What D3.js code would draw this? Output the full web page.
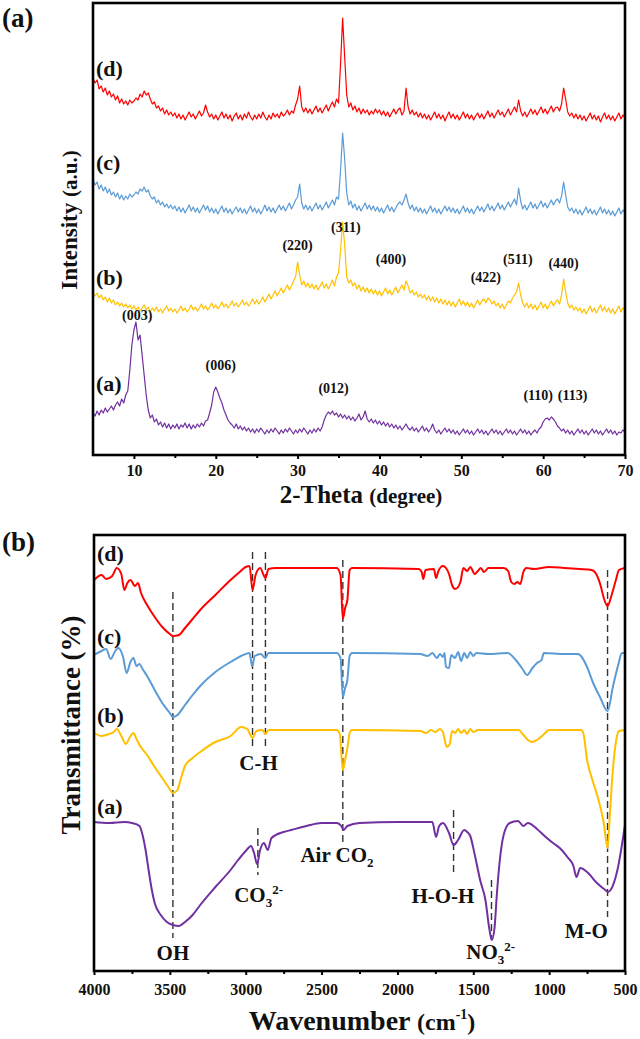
<!DOCTYPE html>
<html><head><meta charset="utf-8">
<script src="https://cdn.jsdelivr.net/npm/d3@7"></script>
<style>
html,body{margin:0;padding:0;background:#fff;}
svg{display:block;}
text{font-family:"Liberation Serif","Times New Roman",serif;font-weight:bold;fill:#111;}
</style></head>
<body>
<svg id="chart" width="640" height="1039"></svg>
<script>
// ---------------- DATA ----------------
// XRD (panel a): intensity (a.u., stacked as plotted) sampled every 0.25 deg from 5 to 70
const xrdTheta0 = 5, xrdThetaStep = 0.25;
const xrdD = [
377,372,375,366,369,363,367,360,364,358,361,355,359,352,356,351,354,350,355,352,
354,357,355,361,358,364,360,362,356,351,353,347,349,344,347,341,345,340,343,339,
342,337,341,336,340,335,339,343,338,341,336,340,344,339,342,350,343,338,341,336,
340,335,339,343,337,341,336,340,334,339,342,336,340,335,341,337,343,338,335,340,
336,341,337,343,338,335,340,336,342,338,341,337,343,339,341,345,340,344,342,350,
356,369,348,343,347,342,346,341,345,349,343,347,342,346,350,344,349,353,348,356,
352,392,437,398,360,348,352,345,349,343,347,341,346,342,345,340,344,341,346,342,
345,340,344,339,343,338,342,346,341,345,347,340,344,367,348,341,345,340,343,338,
342,337,341,336,340,335,339,343,337,341,336,340,334,339,343,337,341,336,340,335,
339,343,337,341,336,340,335,339,342,337,341,336,340,344,338,342,337,341,345,340,
343,338,342,346,340,344,348,343,355,344,339,343,338,342,346,341,345,340,344,348,
342,346,341,345,349,343,347,348,344,351,367,356,343,339,342,337,341,336,340,335,
339,334,338,342,336,340,335,339,333,338,342,336,340,335,339,334,338,342,336,340,
337];
const xrdC = [
275,270,273,266,270,264,268,262,266,260,263,258,262,256,260,255,259,256,261,258,
260,263,261,266,264,268,263,265,259,256,258,252,255,250,253,248,251,247,250,246,
249,244,248,243,247,242,246,250,244,248,243,247,242,246,250,245,249,243,247,242,
246,241,245,249,243,247,242,246,241,245,248,243,247,242,246,241,245,249,243,247,
242,246,241,245,250,244,248,243,247,242,246,250,245,249,244,248,252,246,250,255,
258,271,252,246,250,245,249,244,248,252,246,250,245,249,253,247,251,255,250,258,
256,285,322,296,262,250,254,247,251,245,249,244,248,252,246,250,245,249,244,248,
243,247,242,246,250,244,248,243,247,251,253,250,255,261,252,246,250,244,248,243,
247,242,246,241,245,249,243,247,242,246,241,245,249,244,248,243,247,242,246,241,
245,249,243,247,242,246,241,245,249,244,248,243,247,251,245,249,244,248,252,246,
250,245,249,253,248,252,256,250,267,254,246,250,245,249,253,247,251,246,250,254,
248,252,247,251,255,250,254,256,252,259,273,260,248,244,247,242,246,241,245,240,
244,248,242,246,241,245,240,244,248,242,246,241,245,240,244,239,243,247,241,245,
242];
const xrdB = [
163,159,162,157,160,155,158,153,157,152,155,150,153,149,152,148,151,147,150,146,
149,145,148,144,147,150,145,148,143,147,144,148,143,146,142,146,149,144,147,143,
146,142,145,149,144,147,143,146,150,145,148,144,147,151,146,149,145,148,152,147,
150,146,149,153,148,151,147,150,154,149,152,148,151,155,150,153,149,152,156,151,
155,151,154,158,153,157,161,156,160,164,159,163,167,162,166,170,165,169,174,178,
193,180,170,174,168,172,167,171,166,170,165,169,173,167,171,166,170,175,169,178,
182,205,233,210,178,172,175,169,172,166,170,164,168,163,167,162,166,161,165,160,
164,159,163,167,161,165,160,164,168,162,166,170,165,174,169,162,165,160,163,158,
161,157,160,155,159,154,158,153,157,152,156,151,155,150,154,149,153,148,152,156,
150,154,149,153,148,152,147,151,155,150,154,156,152,157,155,151,154,149,152,147,
151,146,150,154,152,157,160,163,172,160,152,148,152,147,151,146,150,145,149,153,
147,151,146,150,154,149,153,155,151,160,176,163,152,147,150,145,148,144,147,142,
146,141,145,149,143,147,142,146,150,144,148,143,147,142,146,141,145,149,143,147,
145];
const xrdA = [
42,39,44,40,45,42,47,43,46,49,45,50,53,49,56,52,60,64,85,110,
125,133,115,120,100,80,60,45,37,40,33,36,30,33,28,32,27,31,26,30,
27,31,26,30,28,32,27,31,26,30,27,31,28,32,29,34,35,42,50,63,
68,63,57,52,45,40,35,32,30,27,31,26,29,25,28,24,27,23,26,22,
26,23,27,24,21,25,22,26,23,27,24,21,25,22,26,23,27,24,21,25,
22,26,23,27,24,21,25,22,26,23,27,24,28,35,40,43,41,44,40,42,
38,41,37,40,36,39,35,38,34,37,41,35,38,44,36,33,36,32,35,31,
34,30,33,29,32,28,31,27,30,26,29,25,28,31,27,25,28,24,27,23,
26,29,24,27,23,26,31,25,22,25,21,24,27,23,26,22,25,21,24,20,
23,26,22,25,21,24,20,23,26,22,25,21,24,20,23,26,22,25,21,24,
20,23,26,22,25,21,24,20,23,26,22,25,21,24,20,23,25,22,26,28,
33,36,37,35,38,36,33,29,27,24,26,22,25,21,24,20,23,26,22,25,
21,24,20,23,26,22,25,21,24,20,23,26,22,25,21,24,20,23,22,25,
23];
const xrdSampleLabels = ["(d)","(c)","(b)","(a)"];
const xrdPeakLabels = ["(003)","(006)","(012)","(110)","(113)","(220)","(311)","(400)","(422)","(511)","(440)"];
const xrdPeakTheta  = [10.4, 20.6, 34.4, 59.4, 63.6, 30.0, 35.9, 41.4, 53.0, 56.9, 62.5];
const xrdPeakLevel  = [135, 85, 62, 55, 55, 205, 223, 191, 173, 191, 187];
const xrdTicks = [10,20,30,40,50,60,70];
const xrdMinorTicks = [15,25,35,45,55,65];

// FTIR (panel b): [wavenumber cm-1, transmittance (stacked, a.u.)]
const ftirD = [[4000,391],[3950,396],[3920,392],[3880,395],[3850,403],[3820,397],[3800,381],[3780,388],[3760,391],[3730,385],[3710,388],[3690,378],[3650,366],[3600,354],[3550,344],[3500,337],[3480,335],[3440,336],[3400,343],[3350,352],[3300,361],[3200,376],[3100,391],[3040,399],[3000,404],[2975,405],[2955,381],[2935,396],[2905,403],[2870,393],[2850,402],[2800,403],[2400,403],[2375,396],[2360,352],[2345,363],[2330,371],[2315,401],[2300,403],[1860,402],[1840,399],[1830,392],[1815,401],[1760,402],[1745,393],[1730,400],[1700,405],[1680,403],[1660,397],[1640,386],[1620,382],[1600,384],[1585,389],[1565,403],[1540,400],[1520,404],[1490,397],[1470,400],[1450,403],[1430,399],[1400,403],[1300,403],[1270,400],[1250,389],[1230,387],[1210,389],[1190,387],[1170,399],[1150,403],[1100,402],[1000,404],[900,403],[800,402],[720,401],[690,397],[660,385],[640,373],[615,365],[590,375],[560,391],[540,401],[500,403]];
const ftirC = [[4000,316],[3950,320],[3920,322],[3890,312],[3860,320],[3840,323],[3810,315],[3785,298],[3760,309],[3740,313],[3720,305],[3700,307],[3680,302],[3650,295],[3600,281],[3550,268],[3500,258],[3480,254],[3450,256],[3400,266],[3350,276],[3300,285],[3200,299],[3100,309],[3000,317],[2975,318],[2958,305],[2940,315],[2900,317],[2872,313],[2850,318],[2400,318],[2375,313],[2360,274],[2345,283],[2330,291],[2315,315],[2300,318],[1850,317],[1800,315],[1770,318],[1740,313],[1720,317],[1700,314],[1690,318],[1680,304],[1660,303],[1645,316],[1620,313],[1600,319],[1580,310],[1560,318],[1540,313],[1520,319],[1500,315],[1480,318],[1400,317],[1275,318],[1220,311],[1180,303],[1145,296],[1110,303],[1080,308],[1050,311],[1035,318],[900,317],[810,317],[750,304],[710,288],[665,274],[615,260],[580,284],[545,306],[520,318],[500,318]];
const ftirB = [[4000,238],[3950,235],[3900,237],[3870,239],[3850,242],[3820,235],[3790,227],[3760,235],[3740,238],[3720,232],[3700,226],[3650,216],[3600,204],[3550,193],[3510,184],[3480,178],[3450,181],[3430,191],[3400,205],[3350,213],[3300,219],[3200,229],[3100,235],[3030,244],[2990,242],[2955,233],[2930,240],[2890,241],[2870,237],[2850,241],[2400,241],[2380,237],[2360,201],[2345,211],[2330,223],[2315,238],[2300,241],[1850,240],[1810,238],[1780,241],[1750,239],[1720,242],[1700,239],[1690,232],[1675,224],[1655,227],[1640,240],[1620,238],[1600,242],[1580,238],[1560,241],[1540,237],[1520,242],[1500,239],[1470,241],[1200,241],[1180,238],[1140,231],[1110,229],[1080,231],[1040,236],[1000,241],[790,241],[775,238],[750,211],[715,191],[680,174],[640,148],[615,123],[600,156],[580,201],[560,229],[540,240],[500,241]];
const ftirA = [[4000,149],[3900,148],[3800,149],[3750,148],[3700,145],[3680,136],[3660,121],[3640,101],[3620,82],[3600,68],[3560,56],[3520,49],[3480,46],[3440,45],[3400,49],[3350,56],[3300,66],[3200,84],[3100,101],[3050,111],[3000,120],[2965,125],[2945,118],[2925,107],[2905,121],[2880,128],[2855,121],[2830,133],[2750,139],[2700,141],[2600,145],[2500,148],[2400,148],[2370,145],[2355,141],[2330,145],[2250,148],[2000,149],[1850,149],[1770,149],[1745,134],[1725,145],[1700,148],[1660,138],[1630,126],[1600,131],[1560,141],[1540,139],[1520,135],[1490,116],[1455,91],[1420,71],[1395,43],[1378,31],[1360,43],[1345,76],[1325,111],[1300,136],[1260,148],[1205,150],[1170,145],[1140,148],[1080,142],[1030,135],[975,128],[930,123],[880,114],[840,105],[820,94],[795,103],[750,99],[685,88],[630,81],[612,79],[595,81],[550,101],[510,136],[500,146]];
const ftirSampleLabels = ["(d)","(c)","(b)","(a)"];
const ftirBandWn = [3480, 2955, 2870, 2360, 615, 2920, 1630, 1380];
const ftirTicks = [4000,3500,3000,2500,2000,1500,1000,500];
const ftirMinorTicks = [3750,3250,2750,2250,1750,1250,750];

const colors = {d:"#ff0000", c:"#5b9bd5", b:"#ffc000", a:"#7030a0"};

// ---------------- DRAW ----------------
const svg = d3.select("#chart");

// ---- Panel (a): XRD ----
const xX = d3.scaleLinear().domain([5,70]).range([93,625]);
const yX = d3.scaleLinear().domain([0,452]).range([455,3]);
const gA = svg.append("g");

const xrdSeries = [["d",xrdD],["c",xrdC],["b",xrdB],["a",xrdA]];
const lineX = d3.line().x((v,i)=>xX(xrdTheta0 + i*xrdThetaStep)).y(v=>yX(v));
xrdSeries.forEach(([k,arr])=>{
  gA.append("path").datum(arr).attr("d",lineX)
    .attr("fill","none").attr("stroke",colors[k]).attr("stroke-width",1.2)
    .attr("stroke-linejoin","round");
});

// axes
gA.append("g").attr("transform","translate(0,455)")
  .call(d3.axisBottom(xX).tickValues(xrdTicks).tickSize(4).tickFormat(d3.format("d")))
  .call(g=>{g.select(".domain").remove();
    g.selectAll("line").attr("stroke","#000").attr("stroke-width",2);
    g.selectAll("text").attr("dy",null).attr("y",21).attr("font-size",16).attr("fill","#111")
      .style("font-family",'"Liberation Serif",serif').style("font-weight","bold");});
gA.append("g").attr("transform","translate(0,455)")
  .call(d3.axisBottom(xX).tickValues(xrdMinorTicks).tickSize(3).tickFormat(""))
  .call(g=>{g.select(".domain").remove(); g.selectAll("line").attr("stroke","#000").attr("stroke-width",2);});
gA.append("rect").attr("x",xX(5)).attr("y",yX(452)).attr("width",xX(70)-xX(5)).attr("height",yX(0)-yX(452))
  .attr("fill","none").attr("stroke","#000").attr("stroke-width",2.6);

// sample labels
const xrdLabelY = [76,170,285,391];
xrdSampleLabels.forEach((t,i)=>gA.append("text").attr("x",96).attr("y",xrdLabelY[i]).attr("font-size",22).text(t));
// peak labels
xrdPeakLabels.forEach((t,i)=>gA.append("text").attr("x",xX(xrdPeakTheta[i]) ).attr("y",yX(xrdPeakLevel[i]))
  .attr("text-anchor","middle").attr("font-size",14).text(t));

// titles
gA.append("text").attr("x",2).attr("y",27).attr("font-size",27).text("(a)");
const ty = gA.append("text").attr("transform","translate(77,220) rotate(-90)").attr("text-anchor","middle");
ty.append("tspan").attr("font-size",23).text("Intensity ");
ty.append("tspan").attr("font-size",21).text("(a.u.)");
const tx = gA.append("text").attr("x",361).attr("y",503).attr("text-anchor","middle");
tx.append("tspan").attr("font-size",25).text("2-Theta ");
tx.append("tspan").attr("font-size",21).text("(degree)");

// ---- Panel (b): FTIR ----
const xF = d3.scaleLinear().domain([4000,500]).range([94,625]);
const yF = d3.scaleLinear().domain([0,436]).range([971,535]);
const gB = svg.append("g");

// dashed band markers
const dashSpans = [[379,33],[419,221],[419,221],[411,129],[401,54],[143,96],[161,98],[91,31]];
ftirBandWn.forEach((w,i)=>{
  gB.append("line").attr("x1",xF(w)).attr("x2",xF(w)).attr("y1",yF(dashSpans[i][0])).attr("y2",yF(dashSpans[i][1]))
    .attr("stroke","#333").attr("stroke-width",1.4).attr("stroke-dasharray","7,4");
});

const lineF = d3.line().x(d=>xF(d[0])).y(d=>yF(d[1])).curve(d3.curveMonotoneX);
const ftirSeries = [["d",ftirD],["c",ftirC],["b",ftirB],["a",ftirA]];
ftirSeries.forEach(([k,arr])=>{
  gB.append("path").datum(arr).attr("d",lineF)
    .attr("fill","none").attr("stroke",colors[k]).attr("stroke-width",2)
    .attr("stroke-linejoin","round");
});

gB.append("g").attr("transform","translate(0,971)")
  .call(d3.axisBottom(xF).tickValues(ftirTicks).tickSize(4).tickFormat(d3.format("d")))
  .call(g=>{g.select(".domain").remove();
    g.selectAll("line").attr("stroke","#000").attr("stroke-width",2);
    g.selectAll("text").attr("dy",null).attr("y",24).attr("font-size",16).attr("fill","#111")
      .style("font-family",'"Liberation Serif",serif').style("font-weight","bold");});
gB.append("g").attr("transform","translate(0,971)")
  .call(d3.axisBottom(xF).tickValues(ftirMinorTicks).tickSize(3).tickFormat(""))
  .call(g=>{g.select(".domain").remove(); g.selectAll("line").attr("stroke","#000").attr("stroke-width",2);});
gB.append("rect").attr("x",xF(4000)).attr("y",yF(436)).attr("width",xF(500)-xF(4000)).attr("height",yF(0)-yF(436))
  .attr("fill","none").attr("stroke","#000").attr("stroke-width",2.6);

const ftirLabelY = [561,644,723,814];
ftirSampleLabels.forEach((t,i)=>gB.append("text").attr("x",97).attr("y",ftirLabelY[i]).attr("font-size",22).text(t));

// band annotations
function ann(x,y,parts){
  const t = gB.append("text").attr("x",x).attr("y",y).attr("text-anchor","middle").attr("font-size",21);
  parts.forEach(p=>{
    const s = t.append("tspan").text(p[0]);
    if(p[1]==="sub") s.attr("font-size",13).attr("dy",5);
    if(p[1]==="sup") s.attr("font-size",13).attr("dy",-13);
  });
}
ann(xF(3480),960,[["OH"]]);
ann(xF(2915),770,[["C-H"]]);
ann(xF(2915),902,[["CO"],["3","sub"],["2-","sup"]]);
ann(337,862,[["Air CO"],["2","sub"]]);
ann(xF(1700),903,[["H-O-H"]]);
ann(xF(1385),959,[["NO"],["3","sub"],["2-","sup"]]);
ann(xF(755),938,[["M-O"]]);

gB.append("text").attr("x",2).attr("y",551).attr("font-size",27).text("(b)");
gB.append("text").attr("transform","translate(80,725) rotate(-90)").attr("text-anchor","middle")
  .attr("font-size",27).text("Transmittance (%)");
const tw = gB.append("text").attr("x",362).attr("y",1030).attr("text-anchor","middle");
tw.append("tspan").attr("font-size",28).text("Wavenumber ");
tw.append("tspan").attr("font-size",24).text("(cm");
tw.append("tspan").attr("font-size",14).attr("dy",-11).text("-1");
tw.append("tspan").attr("font-size",24).attr("dy",11).text(")");
</script>
</body></html>
